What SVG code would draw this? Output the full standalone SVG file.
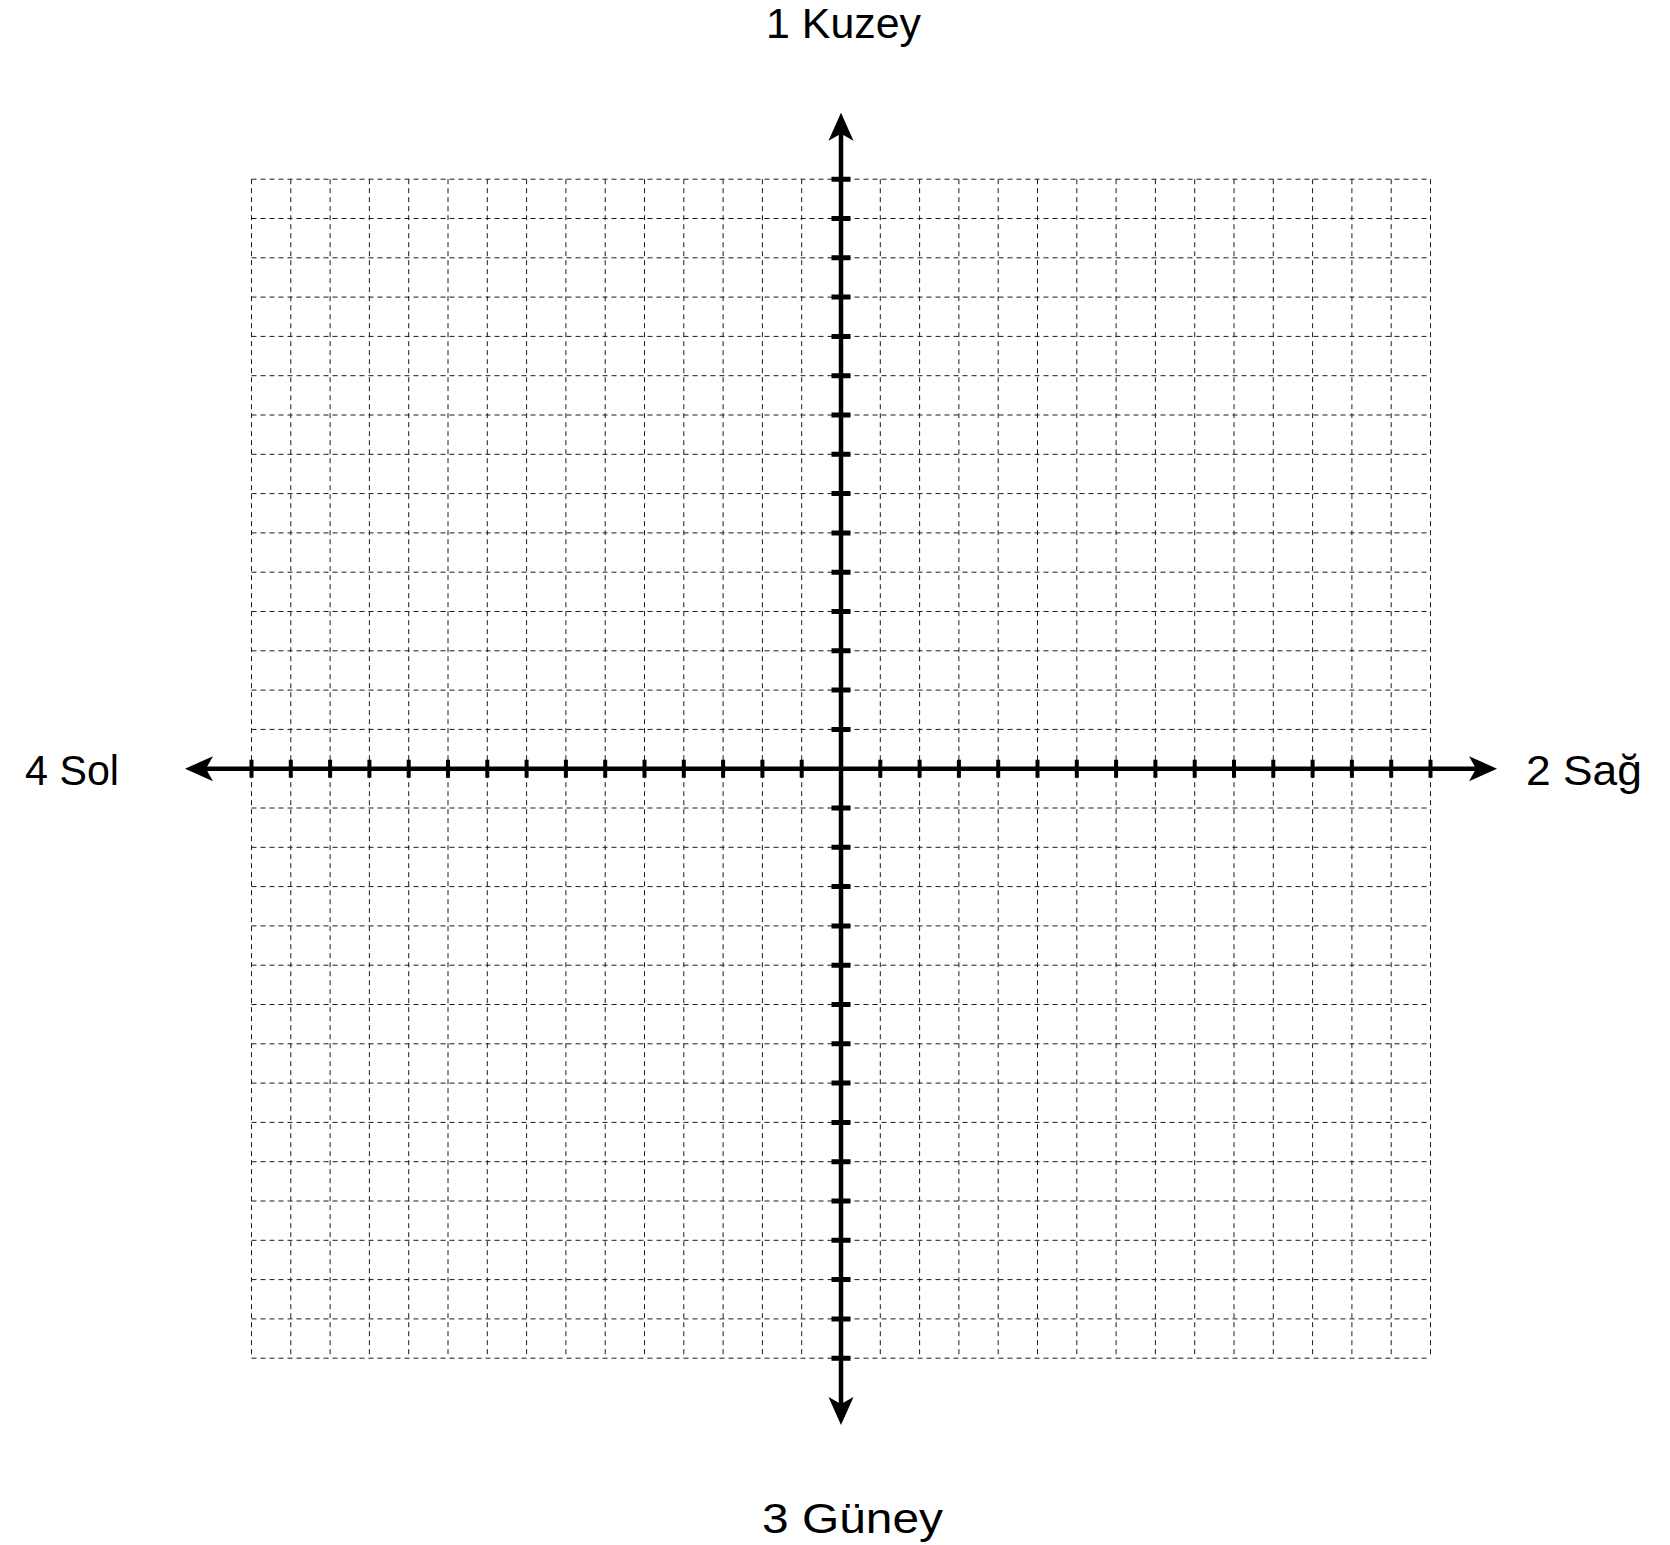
<svg xmlns="http://www.w3.org/2000/svg" width="1670" height="1545" viewBox="0 0 1670 1545">
<style>
.grid{fill:none;stroke:#1a1a1a;stroke-width:1;stroke-dasharray:5 4}
.axis{fill:none;stroke:#000;stroke-width:4.5}
.tickx{fill:none;stroke:#000;stroke-width:4}
.ticky{fill:none;stroke:#000;stroke-width:5}
.lbl{font-family:"Liberation Sans",Arial,sans-serif;font-size:42px;fill:#000}
</style>
<defs>
<marker id="arr" viewBox="-28 -13 28 26" refX="-21" refY="0" markerWidth="28" markerHeight="26" markerUnits="userSpaceOnUse" orient="auto-start-reverse">
<path d="M0,0 L-28,-12.5 L-21,0 L-28,12.5 Z" fill="#000"/>
</marker>
</defs>
<rect width="1670" height="1545" fill="#fff"/>
<g id="grid">
<path class="grid" d="M251.5 179.2V1358.2M290.8 179.2V1358.2M330.1 179.2V1358.2M369.4 179.2V1358.2M408.7 179.2V1358.2M448 179.2V1358.2M487.3 179.2V1358.2M526.6 179.2V1358.2M565.9 179.2V1358.2M605.2 179.2V1358.2M644.5 179.2V1358.2M683.8 179.2V1358.2M723.1 179.2V1358.2M762.4 179.2V1358.2M801.7 179.2V1358.2M880.3 179.2V1358.2M919.6 179.2V1358.2M958.9 179.2V1358.2M998.2 179.2V1358.2M1037.5 179.2V1358.2M1076.8 179.2V1358.2M1116.1 179.2V1358.2M1155.4 179.2V1358.2M1194.7 179.2V1358.2M1234 179.2V1358.2M1273.3 179.2V1358.2M1312.6 179.2V1358.2M1351.9 179.2V1358.2M1391.2 179.2V1358.2M1430.5 179.2V1358.2"/>
<path class="grid" d="M251.5 179.2H1430.5M251.5 218.5H1430.5M251.5 257.8H1430.5M251.5 297.1H1430.5M251.5 336.4H1430.5M251.5 375.7H1430.5M251.5 415H1430.5M251.5 454.3H1430.5M251.5 493.6H1430.5M251.5 532.9H1430.5M251.5 572.2H1430.5M251.5 611.5H1430.5M251.5 650.8H1430.5M251.5 690.1H1430.5M251.5 729.4H1430.5M251.5 808H1430.5M251.5 847.3H1430.5M251.5 886.6H1430.5M251.5 925.9H1430.5M251.5 965.2H1430.5M251.5 1004.5H1430.5M251.5 1043.8H1430.5M251.5 1083.1H1430.5M251.5 1122.4H1430.5M251.5 1161.7H1430.5M251.5 1201H1430.5M251.5 1240.3H1430.5M251.5 1279.6H1430.5M251.5 1318.9H1430.5M251.5 1358.2H1430.5"/>
</g>
<g id="axes">
<line class="axis" x1="206" y1="768.7" x2="1476" y2="768.7" marker-start="url(#arr)" marker-end="url(#arr)"/>
<line class="axis" x1="841" y1="133.7" x2="841" y2="1404" marker-start="url(#arr)" marker-end="url(#arr)"/>
<path class="tickx" d="M251.5 759.7V777.7M290.8 759.7V777.7M330.1 759.7V777.7M369.4 759.7V777.7M408.7 759.7V777.7M448 759.7V777.7M487.3 759.7V777.7M526.6 759.7V777.7M565.9 759.7V777.7M605.2 759.7V777.7M644.5 759.7V777.7M683.8 759.7V777.7M723.1 759.7V777.7M762.4 759.7V777.7M801.7 759.7V777.7M880.3 759.7V777.7M919.6 759.7V777.7M958.9 759.7V777.7M998.2 759.7V777.7M1037.5 759.7V777.7M1076.8 759.7V777.7M1116.1 759.7V777.7M1155.4 759.7V777.7M1194.7 759.7V777.7M1234 759.7V777.7M1273.3 759.7V777.7M1312.6 759.7V777.7M1351.9 759.7V777.7M1391.2 759.7V777.7M1430.5 759.7V777.7"/>
<path class="ticky" d="M831.5 179.2H850.5M831.5 218.5H850.5M831.5 257.8H850.5M831.5 297.1H850.5M831.5 336.4H850.5M831.5 375.7H850.5M831.5 415H850.5M831.5 454.3H850.5M831.5 493.6H850.5M831.5 532.9H850.5M831.5 572.2H850.5M831.5 611.5H850.5M831.5 650.8H850.5M831.5 690.1H850.5M831.5 729.4H850.5M831.5 808H850.5M831.5 847.3H850.5M831.5 886.6H850.5M831.5 925.9H850.5M831.5 965.2H850.5M831.5 1004.5H850.5M831.5 1043.8H850.5M831.5 1083.1H850.5M831.5 1122.4H850.5M831.5 1161.7H850.5M831.5 1201H850.5M831.5 1240.3H850.5M831.5 1279.6H850.5M831.5 1318.9H850.5M831.5 1358.2H850.5"/>
</g>
<g id="label-north"><text class="lbl" x="766" y="37.5" textLength="155" lengthAdjust="spacingAndGlyphs">1 Kuzey</text></g>
<g id="label-right"><text class="lbl" x="1526" y="785" textLength="116" lengthAdjust="spacingAndGlyphs">2 Sağ</text></g>
<g id="label-south"><text class="lbl" x="762" y="1533" textLength="181" lengthAdjust="spacingAndGlyphs">3 Güney</text></g>
<g id="label-left"><text class="lbl" x="25" y="785" textLength="94" lengthAdjust="spacingAndGlyphs">4 Sol</text></g>
</svg>
